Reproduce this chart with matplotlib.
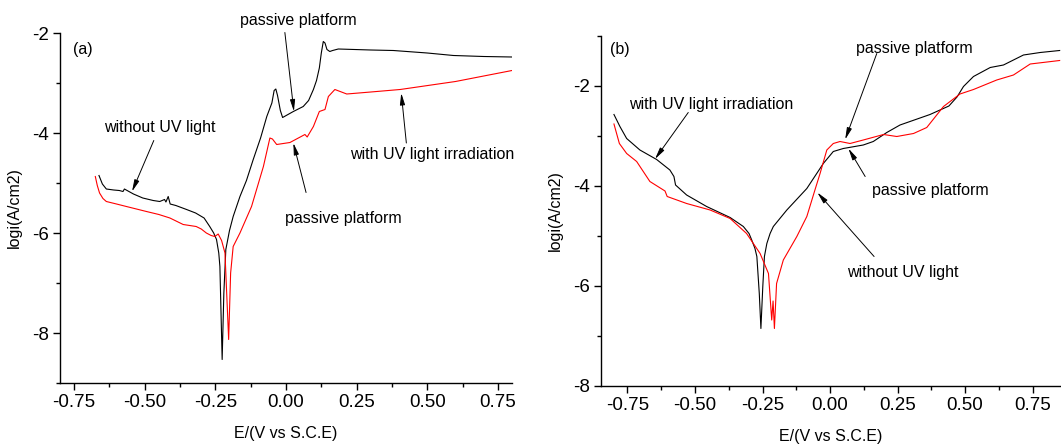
import matplotlib
matplotlib.use("Agg")
import matplotlib.pyplot as plt
from matplotlib.ticker import MultipleLocator

plt.rcParams['font.family'] = ['Liberation Sans', 'DejaVu Sans']

# ---------------- Panel (a) data ----------------
a_black_x = [-0.662, -0.650, -0.636, -0.610, -0.590, -0.577, -0.572, -0.540, -0.507, -0.470,
             -0.447, -0.430, -0.425, -0.417, -0.410, -0.390, -0.352, -0.320, -0.305, -0.290,
             -0.270, -0.256, -0.246, -0.238, -0.234, -0.226, -0.220, -0.213, -0.200, -0.187,
             -0.163, -0.140, -0.116, -0.090, -0.068, -0.050, -0.042, -0.036, -0.030, -0.020,
             -0.012, 0.026, 0.061, 0.080, 0.097, 0.108, 0.118, 0.125, 0.132, 0.138,
             0.145, 0.155, 0.165, 0.185, 0.300, 0.380, 0.500, 0.593, 0.700, 0.800]
a_black_y = [-4.85, -5.02, -5.12, -5.14, -5.15, -5.17, -5.12, -5.22, -5.30, -5.35,
             -5.37, -5.33, -5.38, -5.27, -5.42, -5.45, -5.53, -5.60, -5.65, -5.70,
             -5.87, -6.00, -6.13, -6.40, -6.67, -8.53, -7.20, -6.33, -5.95, -5.67,
             -5.27, -4.95, -4.53, -4.10, -3.67, -3.40, -3.15, -3.12, -3.25, -3.55,
             -3.69, -3.57, -3.47, -3.35, -3.13, -2.95, -2.70, -2.40, -2.17, -2.20,
             -2.33, -2.37, -2.35, -2.32, -2.34, -2.35, -2.40, -2.45, -2.47, -2.48]

a_red_x = [-0.675, -0.668, -0.660, -0.648, -0.636, -0.600, -0.565, -0.494, -0.450, -0.411,
           -0.364, -0.318, -0.300, -0.282, -0.265, -0.252, -0.240, -0.228, -0.216, -0.203,
           -0.196, -0.187, -0.163, -0.122, -0.080, -0.057, -0.048, -0.033, 0.014, 0.067,
           0.075, 0.097, 0.118, 0.138, 0.150, 0.173, 0.215, 0.300, 0.404, 0.600, 0.800]
a_red_y = [-4.87, -5.05, -5.20, -5.31, -5.37, -5.42, -5.47, -5.57, -5.63, -5.70,
           -5.83, -5.87, -5.92, -6.00, -6.05, -6.07, -6.02, -6.15, -6.40, -8.13,
           -6.80, -6.27, -6.00, -5.47, -4.67, -4.10, -4.12, -4.23, -4.19, -4.03,
           -4.08, -3.87, -3.57, -3.53, -3.27, -3.13, -3.22, -3.18, -3.13, -2.97, -2.75]

# ---------------- Panel (b) data ----------------
b_black_x = [-0.800, -0.778, -0.753, -0.704, -0.642, -0.593, -0.578, -0.572, -0.531, -0.457,
             -0.370, -0.321, -0.300, -0.290, -0.278, -0.271, -0.262, -0.256, -0.249, -0.243,
             -0.234, -0.222, -0.210, -0.160, -0.086, -0.025, 0.012, 0.049, 0.123, 0.160,
             0.210, 0.259, 0.370, 0.440, 0.470, 0.494, 0.531, 0.593, 0.642, 0.716,
             0.778, 0.850]
b_black_y = [-2.57, -2.81, -3.05, -3.28, -3.47, -3.68, -3.81, -3.98, -4.18, -4.41,
             -4.63, -4.81, -4.95, -5.08, -5.25, -5.41, -6.15, -6.85, -6.01, -5.41,
             -5.15, -4.95, -4.81, -4.48, -4.05, -3.55, -3.31, -3.25, -3.18, -3.11,
             -2.93, -2.78, -2.57, -2.40, -2.22, -2.01, -1.81, -1.63, -1.58, -1.38,
             -1.33, -1.29]

b_red_x = [-0.800, -0.780, -0.753, -0.716, -0.667, -0.611, -0.603, -0.531, -0.444, -0.370,
           -0.309, -0.259, -0.228, -0.216, -0.211, -0.206, -0.198, -0.173, -0.123, -0.086,
           -0.056, -0.037, -0.012, 0.012, 0.037, 0.074, 0.123, 0.198, 0.247, 0.309,
           0.358, 0.420, 0.481, 0.531, 0.617, 0.679, 0.741, 0.850]
b_red_y = [-2.76, -3.15, -3.35, -3.51, -3.91, -4.10, -4.21, -4.35, -4.48, -4.65,
           -4.95, -5.35, -5.75, -6.68, -6.30, -6.85, -5.95, -5.48, -5.01, -4.61,
           -4.08, -3.75, -3.28, -3.15, -3.11, -3.15, -3.08, -2.97, -3.01, -2.95,
           -2.83, -2.41, -2.16, -2.07, -1.88, -1.78, -1.56, -1.49]

x_ticks = [-0.75, -0.50, -0.25, 0.00, 0.25, 0.50, 0.75]
x_ticklabels = ['-0.75', '-0.50', '-0.25', '0.00', '0.25', '0.50', '0.75']
y_ticks = [-8, -6, -4, -2]
y_ticklabels = ['-8', '-6', '-4', '-2']

W, H = 1061, 446
fig = plt.figure(figsize=(W / 100, H / 100), dpi=100)

ax1 = fig.add_axes([60 / W, (H - 383) / H, (512 - 60) / W, (383 - 33) / H])
ax2 = fig.add_axes([601 / W, (H - 386) / H, (1061 - 601) / W, (386 - 36) / H])

lw = 0.8
ax1.plot(a_black_x, a_black_y, color='black', lw=lw)
ax1.plot(a_red_x, a_red_y, color='red', lw=lw)
ax2.plot(b_black_x, b_black_y, color='black', lw=lw)
ax2.plot(b_red_x, b_red_y, color='red', lw=lw)

ax1.set_xlim(-0.8, 0.8)
ax1.set_ylim(-9, -2)
ax2.set_xlim(-0.848, 0.855)
ax2.set_ylim(-8, -1)

for ax in (ax1, ax2):
    ax.spines['top'].set_visible(False)
    ax.spines['right'].set_visible(False)
    ax.set_xticks(x_ticks)
    ax.set_xticklabels(x_ticklabels)
    ax.set_yticks(y_ticks)
    ax.set_yticklabels(y_ticklabels)
    ax.xaxis.set_minor_locator(MultipleLocator(0.125))
    ax.yaxis.set_minor_locator(MultipleLocator(1))
    ax.tick_params(which='major', direction='out', length=5, width=1, labelsize=13.5, pad=3)
    ax.tick_params(which='minor', direction='out', length=3, width=1)
    ax.set_xlabel('E/(V vs S.C.E)', fontsize=11.5, labelpad=11)
    ax.set_ylabel('logi(A/cm2)', fontsize=11.5, labelpad=7)
    for s in ('left', 'bottom'):
        ax.spines[s].set_linewidth(1.0)

fs = 11.5
arrow = dict(arrowstyle='-|>,head_width=0.15,head_length=0.7', color='black', lw=0.7,
             shrinkA=0, shrinkB=0)

ax1.text(-0.72, -2.33, '(a)', fontsize=fs, ha='center', va='center')
ax1.annotate('', xy=(0.028, -3.57), xytext=(-0.004, -1.99), arrowprops=arrow, annotation_clip=False)
ax1.text(0.042, -1.75, 'passive platform', fontsize=fs, ha='center', va='center', clip_on=False)
ax1.annotate('', xy=(-0.545, -5.17), xytext=(-0.468, -4.15), arrowprops=arrow)
ax1.text(-0.448, -3.89, 'without UV light', fontsize=fs, ha='center', va='center')
ax1.annotate('', xy=(0.408, -3.20), xytext=(0.426, -4.20), arrowprops=arrow)
ax1.text(0.518, -4.43, 'with UV light irradiation', fontsize=fs, ha='center', va='center', clip_on=False)
ax1.annotate('', xy=(0.026, -4.20), xytext=(0.071, -5.19), arrowprops=arrow)
ax1.text(0.202, -5.71, 'passive platform', fontsize=fs, ha='center', va='center')

ax2.text(-0.778, -1.27, '(b)', fontsize=fs, ha='center', va='center')
ax2.annotate('', xy=(0.056, -3.07), xytext=(0.173, -1.35), arrowprops=arrow)
ax2.text(0.311, -1.25, 'passive platform', fontsize=fs, ha='center', va='center')
ax2.annotate('', xy=(-0.648, -3.46), xytext=(-0.525, -2.53), arrowprops=arrow)
ax2.text(-0.439, -2.37, 'with UV light irradiation', fontsize=fs, ha='center', va='center')
ax2.annotate('', xy=(0.068, -3.25), xytext=(0.130, -3.81), arrowprops=arrow)
ax2.text(0.370, -4.09, 'passive platform', fontsize=fs, ha='center', va='center')
ax2.annotate('', xy=(-0.047, -4.13), xytext=(0.163, -5.41), arrowprops=arrow)
ax2.text(0.270, -5.73, 'without UV light', fontsize=fs, ha='center', va='center')

fig.savefig('out.png', dpi=100)
